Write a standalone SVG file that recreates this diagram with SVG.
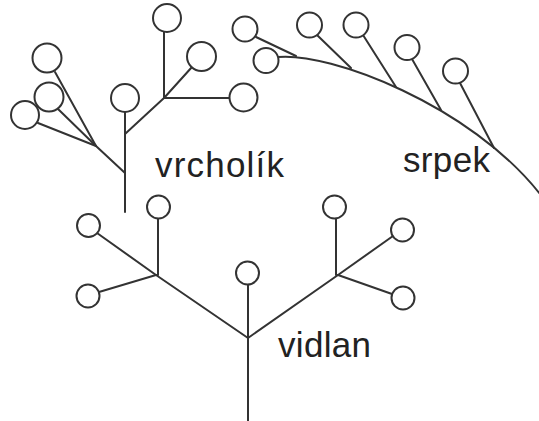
<svg xmlns="http://www.w3.org/2000/svg" width="539" height="421" viewBox="0 0 539 421">
<style>
.ln{stroke:#333;stroke-width:2;fill:none;stroke-linecap:round}
.nd{stroke:#333;stroke-width:2;fill:#fff}
.lb{font-family:"Liberation Sans",Arial,sans-serif;font-size:35px;fill:#222}
</style>
<rect width="539" height="421" fill="#fff"/>
<g id="connectors">
<!-- vrcholik -->
<line class="ln" x1="125" y1="112" x2="125" y2="212"/>
<line class="ln" x1="125" y1="134" x2="164" y2="98"/>
<line class="ln" x1="164" y1="98" x2="164" y2="32"/>
<line class="ln" x1="164" y1="98" x2="192" y2="67"/>
<line class="ln" x1="164" y1="98" x2="229" y2="98"/>
<line class="ln" x1="55" y1="72" x2="96" y2="146"/>
<line class="ln" x1="58" y1="109" x2="96" y2="146"/>
<line class="ln" x1="38" y1="123" x2="96" y2="146"/>
<line class="ln" x1="96" y1="146" x2="125" y2="173"/>
<!-- srpek -->
<path class="ln" d="M278,57 C330,52 470,105 540,194"/>
<line class="ln" x1="256" y1="37" x2="296" y2="56"/>
<line class="ln" x1="317" y1="35" x2="351" y2="68"/>
<line class="ln" x1="363" y1="35" x2="396" y2="87"/>
<line class="ln" x1="412" y1="59" x2="441" y2="110"/>
<line class="ln" x1="460" y1="83" x2="494" y2="148"/>
<!-- vidlan -->
<line class="ln" x1="248" y1="285" x2="248" y2="421"/>
<line class="ln" x1="248" y1="338" x2="156" y2="275"/>
<line class="ln" x1="248" y1="338" x2="338" y2="275"/>
<line class="ln" x1="158" y1="218" x2="158" y2="275"/>
<line class="ln" x1="97" y1="233" x2="156" y2="275"/>
<line class="ln" x1="99" y1="292" x2="156" y2="275"/>
<line class="ln" x1="336" y1="218" x2="336" y2="275"/>
<line class="ln" x1="393" y1="236" x2="338" y2="275"/>
<line class="ln" x1="392" y1="294" x2="338" y2="275"/>
</g>
<g id="vrcholik">
<circle class="nd" cx="125" cy="98" r="14"/>
<circle class="nd" cx="167" cy="18" r="14"/>
<circle class="nd" cx="201.5" cy="56.5" r="14.5"/>
<circle class="nd" cx="243.5" cy="97.5" r="14"/>
<circle class="nd" cx="47" cy="58" r="14.5"/>
<circle class="nd" cx="49" cy="97" r="14.5"/>
<circle class="nd" cx="25" cy="115" r="14"/>
<text class="lb" x="155" y="177" textLength="129" lengthAdjust="spacing">vrcholík</text>
</g>
<g id="srpek">
<circle class="nd" cx="245" cy="29" r="12.5"/>
<circle class="nd" cx="266" cy="60.5" r="12.5"/>
<circle class="nd" cx="309.5" cy="25" r="12.5"/>
<circle class="nd" cx="356" cy="25" r="12.5"/>
<circle class="nd" cx="407" cy="47.5" r="12.5"/>
<circle class="nd" cx="455.5" cy="71" r="12.5"/>
<text class="lb" x="403" y="172" textLength="87" lengthAdjust="spacing">srpek</text>
</g>
<g id="vidlan">
<circle class="nd" cx="247.5" cy="273" r="11.5"/>
<circle class="nd" cx="158.5" cy="207" r="11.5"/>
<circle class="nd" cx="88.5" cy="225.5" r="11.5"/>
<circle class="nd" cx="88" cy="296" r="11.5"/>
<circle class="nd" cx="334.5" cy="207" r="11.5"/>
<circle class="nd" cx="402.5" cy="230" r="11.5"/>
<circle class="nd" cx="403" cy="298" r="11.5"/>
<text class="lb" x="278" y="357" textLength="93" lengthAdjust="spacing">vidlan</text>
</g>
</svg>
